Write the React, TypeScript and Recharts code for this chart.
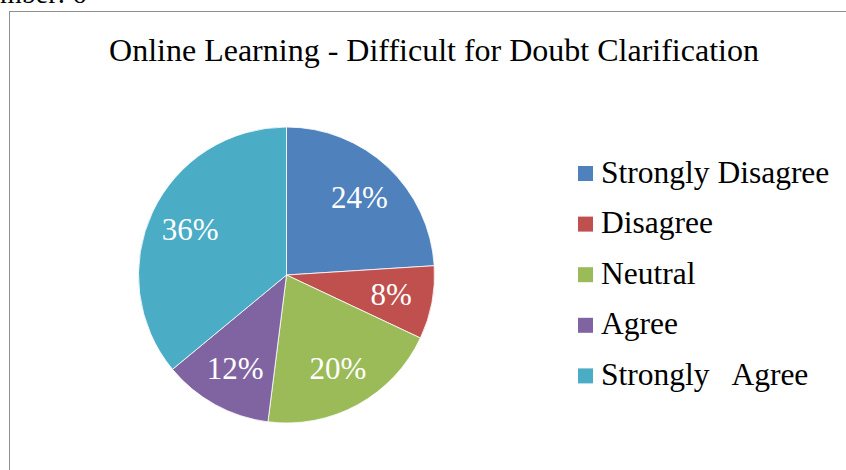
import { PieChart, Pie, Cell, Legend } from 'recharts'

const categories = ['Strongly Disagree', 'Disagree', 'Neutral', 'Agree', 'Strongly   Agree']
const shares = [24, 8, 20, 12, 36]
const colors = ['#4F81BD', '#C0504D', '#9BBB59', '#8064A2', '#4BACC6']

const data = categories.map((name, i) => ({ name, value: shares[i] }))

const FONT = '"Liberation Serif", "Times New Roman", serif'
const RADIAN = Math.PI / 180

function renderLabel(props: any) {
  const { cx, cy, midAngle, outerRadius, value } = props
  const r = outerRadius * 0.72
  const x = cx + r * Math.cos(-midAngle * RADIAN)
  const y = cy + r * Math.sin(-midAngle * RADIAN)
  return (
    <text
      x={x}
      y={y}
      fill="#ffffff"
      fontSize={31}
      fontFamily={FONT}
      textAnchor="middle"
      dominantBaseline="central"
    >
      {`${value}%`}
    </text>
  )
}

// keep the legend in the slice order, not sorted by name
function LegendList(props: any) {
  const items = [...(props.payload || [])].sort(
    (a: any, b: any) => categories.indexOf(a.value) - categories.indexOf(b.value),
  )
  return (
    <svg width={266} height={260} style={{ overflow: 'visible' }}>
      {items.map((it: any, i: number) => (
        <g key={it.value}>
          <rect x={0} y={6 + i * 50.6} width={15} height={15} fill={it.color} />
          <text
            x={23}
            y={22.5 + i * 50.6}
            fontSize={31.5}
            fontFamily={FONT}
            fill="#000"
            style={{ whiteSpace: 'pre' }}
          >
            {it.value}
          </text>
        </g>
      ))}
    </svg>
  )
}

export default function App() {
  return (
    <div style={{ position: 'absolute', left: 0, top: 0, width: 846, height: 470, overflow: 'hidden', background: '#fff' }}>
      <div
        style={{
          position: 'absolute',
          left: 9,
          top: 11,
          width: 900,
          height: 500,
          border: '1.5px solid #8f8f8f',
        }}
      />
      <svg width={846} height={470} style={{ position: 'absolute', left: 0, top: 0 }}>
        <text x={0} y={3} fontSize={28} fontFamily={FONT} fill="#000">mber: 6</text>
        <text x={434} y={61} fontSize={32} fontFamily={FONT} fill="#000" textAnchor="middle">
          Online Learning - Difficult for Doubt Clarification
        </text>
      </svg>
      <div style={{ position: 'absolute', left: 0, top: 0 }}>
        <PieChart width={846} height={470} margin={{ top: 0, right: 0, bottom: 0, left: 0 }}>
          <Pie
            data={data}
            dataKey="value"
            nameKey="name"
            cx={286.5}
            cy={275}
            outerRadius={148}
            startAngle={90}
            endAngle={-270}
            stroke="#ffffff"
            strokeWidth={0.8}
            label={renderLabel}
            labelLine={false}
            isAnimationActive={false}
          >
            {data.map((d, i) => (
              <Cell key={d.name} fill={colors[i]} />
            ))}
          </Pie>
          <Legend
            layout="vertical"
            content={<LegendList />}
            wrapperStyle={{ left: 578, top: 160, width: 266, height: 260 }}
          />
        </PieChart>
      </div>
    </div>
  )
}
